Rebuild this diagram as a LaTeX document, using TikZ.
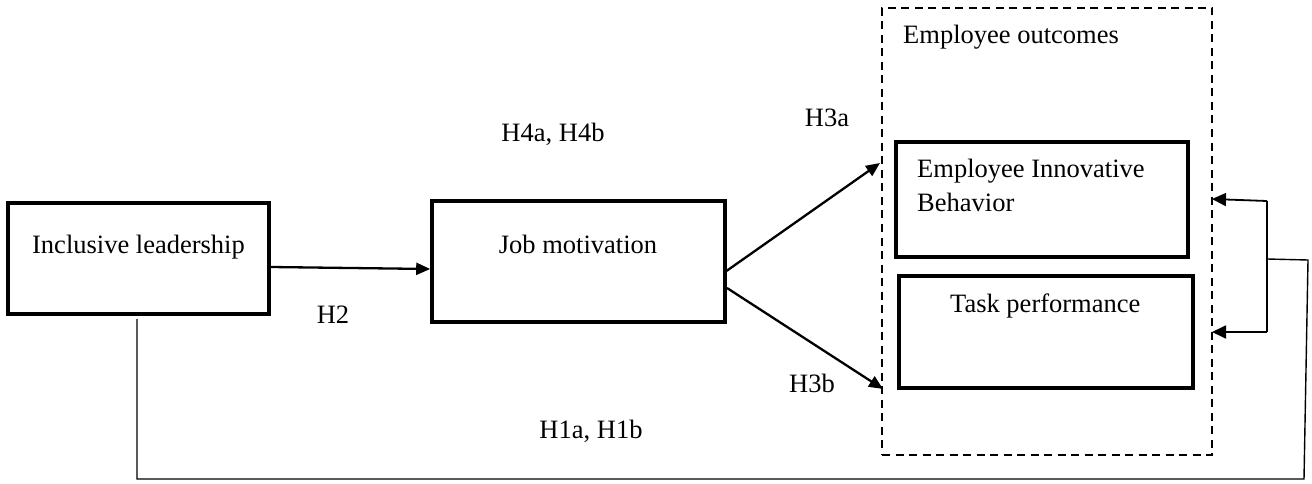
\documentclass[tikz,border=0pt]{standalone}
\usepackage{fontspec}
\setmainfont{Liberation Serif}
\usetikzlibrary{arrows.meta,calc}
\begin{document}
\begin{tikzpicture}[x=1pt,y=-1pt,
  every node/.style={font=\fontsize{26.5}{34}\selectfont, inner sep=0pt},
  box/.style={draw, line width=3.6pt, minimum width=#1, inner sep=0pt},
  txt/.style={anchor=base},
  conn/.style={line width=2.3pt, -{Triangle[length=14pt,width=12pt]}},
  thin/.style={line width=1.4pt},
  thinarr/.style={line width=1.8pt, -{Triangle[length=14pt,width=13pt]}}]
\useasboundingbox (0,0) rectangle (1312,484);
% boxes
\node[box=261pt, minimum height=111pt] (IL) at (138.5,258.5) {};
\node[box=293pt, minimum height=121pt] (JM) at (578.5,261.5) {};
\node[draw, line width=2.4pt, dash pattern=on 8pt off 5.5pt, minimum width=330pt, minimum height=447pt] (EO) at (1047,231.5) {};
\node[box=292pt, minimum height=115pt] (EIB) at (1042,199.5) {};
\node[box=294pt, minimum height=112pt] (TP) at (1046,332) {};
% texts
\node[txt] (tIL) at (138.5,253) {Inclusive leadership};
\node[txt] (tJM) at (578,253) {Job motivation};
\node[anchor=base west] (tEO) at (903,44) {Employee outcomes};
\node[anchor=base west] (tEIB1) at (917,177) {Employee Innovative};
\node[anchor=base west] (tEIB2) at (917,211) {Behavior};
\node[anchor=base west] (tTP) at (950,312) {Task performance};
% labels
\node (H2) at (333,315) {H2};
\node (H3a) at (827,118) {H3a};
\node (H3b) at (812,383) {H3b};
\node (H4) at (553,134) {H4a, H4b};
\node (H1) at (591,431) {H1a, H1b};
% coordinates
\coordinate (a1s) at (725,272);
\coordinate (a1e) at (880,163);
\coordinate (a2s) at (727,288);
\coordinate (a2e) at (883,389);
\coordinate (ILd) at (137,319);
\coordinate (bl) at (137,479);
\coordinate (br) at (1304,479);
\coordinate (rt) at (1308,260);
\coordinate (bm) at (1267,259);
\coordinate (b1) at (1267,201);
\coordinate (b2) at (1267,332);
\coordinate (t1) at (1212,199);
\coordinate (t2) at (1212,332);
% connectors
\draw[conn] (IL.east |- 0,267) -- (JM.west |- 0,269);
\draw[conn] (a1s) -- (a1e);
\draw[conn] (a2s) -- (a2e);
\draw[thin] (ILd) -- (bl) -- (br) -- (rt) -- (bm);
\draw[thin] (b1) -- (b2);
\draw[thinarr] (b1) -- (t1);
\draw[thinarr] (b2) -- (t2);
\end{tikzpicture}
\end{document}
